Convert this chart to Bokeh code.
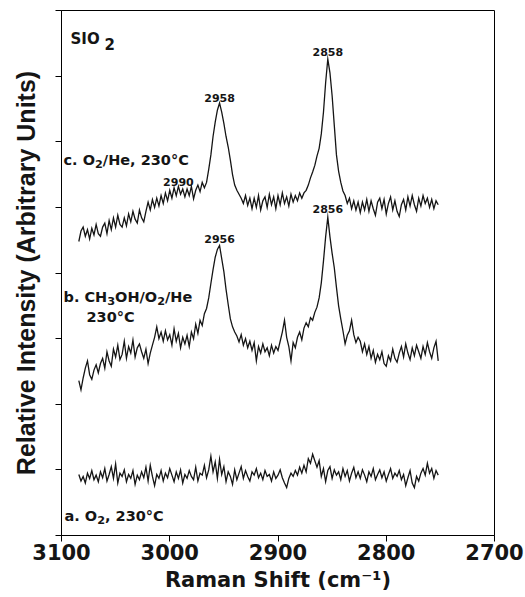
from bokeh.plotting import figure
from bokeh.models import Range1d, FixedTicker, CustomJSTickFormatter
from bokeh.core.properties import value
from bokeh.embed import file_html
from bokeh.resources import INLINE

# ---------------- data ----------------
wavenumber = list(range(3084, 2751, -2))  # Raman shift, cm-1 (167 points)

# a. O2, 230 C
spec_a = [
    0.93, 0.83, 0.90, 0.80, 0.95, 0.87, 0.99, 0.85, 0.92, 0.82,
    0.97, 0.88, 1.02, 0.83, 0.93, 1.05, 0.87, 1.09, 0.80, 0.95,
    0.90, 1.00, 0.82, 0.93, 0.87, 0.99, 0.78, 0.92, 0.85, 0.97,
    0.88, 1.04, 0.83, 1.07, 0.90, 0.76, 0.93, 0.87, 0.99, 0.83,
    0.95, 0.88, 1.02, 0.92, 0.82, 0.97, 0.87, 1.00, 0.80, 0.93,
    0.87, 0.99, 0.90, 0.85, 1.04, 0.83, 0.95, 0.92, 1.07, 0.88,
    1.00, 1.21, 0.97, 1.12, 0.87, 1.16, 0.93, 1.05, 0.82, 0.97,
    0.90, 0.78, 1.00, 0.85, 0.95, 1.05, 0.87, 0.99, 0.90, 0.83,
    0.97, 0.92, 1.02, 0.88, 0.95, 0.85, 0.99, 0.90, 0.93, 0.83,
    0.97, 0.87, 0.92, 1.00, 0.88, 0.80, 0.73, 0.87, 0.95, 0.90,
    0.99, 0.92, 1.04, 0.95, 1.07, 0.97, 1.17, 1.10, 1.24, 1.14,
    1.04, 1.14, 0.90, 1.02, 0.82, 0.99, 1.05, 0.87, 1.00, 0.92,
    0.97, 0.85, 1.02, 0.90, 0.99, 0.83, 0.95, 1.04, 0.88, 0.97,
    0.87, 1.00, 0.92, 0.82, 0.97, 0.90, 1.02, 0.85, 0.93, 1.00,
    0.88, 0.97, 0.83, 0.93, 1.02, 0.87, 0.95, 0.90, 0.99, 0.85,
    0.93, 0.76, 0.88, 0.99, 0.80, 0.73, 0.90, 0.83, 0.95, 1.02,
    0.92, 1.10, 0.95, 1.02, 0.87, 0.99, 0.92,
]

# b. CH3OH/O2/He, 230 C
spec_b = [
    2.36, 2.22, 2.40, 2.55, 2.66, 2.45, 2.38, 2.52, 2.60, 2.48,
    2.62, 2.70, 2.55, 2.80, 2.66, 2.58, 2.84, 2.72, 2.90, 2.68,
    2.76, 2.96, 2.70, 2.88, 2.78, 2.98, 2.72, 2.86, 2.92, 2.80,
    2.70, 2.84, 2.62, 2.78, 2.90, 3.02, 3.18, 3.00, 3.10, 2.96,
    3.12, 2.98, 3.06, 2.90, 3.15, 2.96, 3.08, 2.86, 3.02, 2.92,
    3.05, 2.88, 3.10, 3.00, 3.22, 3.08, 3.28, 3.20, 3.38, 3.46,
    3.62, 3.84, 4.05, 4.24, 4.36, 4.42, 4.22, 4.02, 3.75, 3.52,
    3.30, 3.18, 3.10, 3.04, 2.95, 3.06, 2.90, 3.00, 2.86, 2.96,
    2.82, 2.94, 2.66, 2.88, 2.78, 2.92, 2.80, 2.86, 2.74, 2.90,
    2.78, 2.88, 2.82, 2.96, 3.10, 3.28, 3.02, 2.88, 2.66, 2.94,
    2.86, 3.02, 3.10, 2.98, 3.16, 3.24, 3.18, 3.32, 3.28, 3.40,
    3.48, 3.62, 3.85, 4.18, 4.55, 4.85, 4.55, 4.30, 4.08, 3.78,
    3.50, 3.30, 3.12, 2.92, 3.05, 3.12, 3.28, 3.06, 2.94, 3.02,
    2.96, 2.80, 2.92, 2.76, 2.88, 2.70, 2.82, 2.64, 2.76, 2.68,
    2.80, 2.62, 2.58, 2.74, 2.66, 2.84, 2.70, 2.64, 2.78, 2.88,
    2.72, 2.92, 2.78, 2.68, 2.86, 2.74, 2.90, 2.80, 2.70, 2.88,
    2.76, 2.94, 2.80, 2.70, 2.86, 2.96, 2.66,
]

# c. O2/He, 230 C
spec_c = [
    4.48, 4.64, 4.70, 4.56, 4.66, 4.52, 4.68, 4.58, 4.74, 4.60,
    4.56, 4.70, 4.76, 4.60, 4.80, 4.66, 4.84, 4.70, 4.88, 4.74,
    4.70, 4.84, 4.72, 4.90, 4.78, 4.94, 4.82, 4.76, 4.96, 4.84,
    4.78, 4.94, 5.08, 4.96, 5.12, 5.00, 5.14, 5.02, 5.18, 5.06,
    5.22, 5.10, 5.26, 5.14, 5.30, 5.18, 5.32, 5.20, 5.28, 5.16,
    5.28, 5.18, 5.32, 5.13, 5.26, 5.34, 5.24, 5.38, 5.30, 5.38,
    5.58, 5.80, 6.08, 6.30, 6.48, 6.59, 6.45, 6.28, 6.08, 5.92,
    5.72, 5.50, 5.34, 5.26, 5.20, 5.14, 5.06, 5.18, 5.03, 5.14,
    4.98, 5.14, 5.00, 5.18, 4.96, 5.10, 5.16, 5.00, 5.20, 5.04,
    5.16, 4.98, 5.18, 5.04, 5.22, 5.06, 5.16, 5.02, 5.20, 5.08,
    5.18, 5.10, 5.22, 5.14, 5.22, 5.26, 5.34, 5.45, 5.54, 5.64,
    5.78, 5.90, 6.12, 6.45, 6.90, 7.26, 7.05, 6.70, 6.25, 5.80,
    5.55, 5.38, 5.25, 5.18, 5.06, 5.14, 4.98, 5.10, 4.96, 5.08,
    4.92, 5.08, 4.96, 5.12, 4.94, 5.10, 4.98, 4.88, 5.08, 5.14,
    4.98, 5.12, 4.90, 5.06, 5.16, 4.96, 5.10, 4.94, 4.86, 5.04,
    5.12, 4.96, 5.16, 5.02, 5.18, 5.04, 4.94, 5.14, 5.02, 5.18,
    5.06, 5.14, 5.00, 5.12, 4.98, 5.10, 5.04,
]

x_ticks = [3100, 3000, 2900, 2800, 2700]
y_ticks = [0, 1, 2, 3, 4, 5, 6, 7, 8]

peak_labels = ["2990", "2958", "2858", "2956", "2856"]
peak_series = ["c", "c", "c", "b", "b"]

# ---------------- layout ----------------
W_FIG, H_FIG = 525, 597
LEFT, RIGHT, TOP, BOTTOM = 61, 31, 10, 62
FW = W_FIG - LEFT - RIGHT
FH = H_FIG - TOP - BOTTOM
X0, X1 = 3100, 2700
Y0, Y1 = 0, 8

p = figure(width=W_FIG, height=H_FIG, output_backend="svg", toolbar_location=None,
           title=None, x_range=Range1d(X0, X1), y_range=Range1d(Y0, Y1),
           min_border_left=LEFT, min_border_right=RIGHT,
           min_border_top=TOP, min_border_bottom=BOTTOM)
p.background_fill_color = "white"
p.border_fill_color = "white"
p.outline_line_color = "black"
p.outline_line_width = 1
p.grid.visible = False

FONT = "DejaVu Sans"
INK = "#151515"

xa = p.xaxis[0]
xa.ticker = FixedTicker(ticks=x_ticks, minor_ticks=[])
xa.axis_label = "Raman Shift (cm\u207b\u00b9)"
xa.axis_label_text_font = FONT
xa.axis_label_text_font_style = "bold"
xa.axis_label_text_font_size = "21px"
xa.axis_label_text_color = INK
xa.axis_label_standoff = 5
xa.major_label_text_font = FONT
xa.major_label_text_font_style = "bold"
xa.major_label_text_font_size = "21px"
xa.major_label_text_color = INK
xa.major_label_standoff = 2
xa.major_tick_out = 6
xa.major_tick_in = 0
xa.axis_line_color = "black"

ya = p.yaxis[0]
ya.ticker = FixedTicker(ticks=y_ticks, minor_ticks=[])
ya.formatter = CustomJSTickFormatter(code="return ''")
ya.major_label_text_font_size = "1px"
ya.major_label_standoff = 0
ya.major_tick_out = 6
ya.major_tick_in = 0
ya.axis_label = "Relative Intensity (Arbitrary Units)"
ya.axis_label_text_font = "Liberation Sans"
ya.axis_label_text_font_style = "bold"
ya.axis_label_text_font_size = "25px"
ya.axis_label_text_color = INK
ya.axis_label_standoff = 16
ya.axis_line_color = "black"

# spectra
for s in (spec_a, spec_b, spec_c):
    p.line(wavenumber, s, line_color=INK, line_width=1.3, line_join="miter")

# pixel helpers for annotation placement
def fx(px):
    return X0 + (X1 - X0) * (px - LEFT) / FW

def fy(py):
    return Y1 - (Y1 - Y0) * (py - TOP) / FH

def dy(d):
    return (Y1 - Y0) * d / FH

ADV = {"a": 675, "b": 716, "c": 593, "e": 678, "H": 837, "O": 850, "C": 734,
       "/": 365, ".": 380, ",": 380, " ": 348, "\u00b0": 500, "S": 720, "I": 372}

def width_px(txt, size):
    return sum(ADV.get(ch, 696) for ch in txt) * size / 1000.0

def rich(px, py, parts, size):
    x = px
    for txt, kind in parts:
        s = size * 0.78 if kind == "sub" else size
        off = 4 if kind == "sub" else 0
        p.text(x=[fx(x)], y=[fy(py + off)], text=[txt], text_font=value(FONT),
               text_font_style="bold", text_font_size=f"{s:.1f}px",
               text_baseline="alphabetic", text_align="left", text_color=INK)
        x += width_px(txt, s)

# sample labels
LS = 14.5
rich(63, 159, [("c. O", ""), ("2", "sub"), ("/He, 230\u00b0C", "")], LS)
rich(63, 296, [("b. CH", ""), ("3", "sub"), ("OH/O", ""), ("2", "sub"), ("/He", "")], LS)
rich(86, 316, [("230\u00b0C", "")], LS)
rich(64, 515, [("a. O", ""), ("2", "sub"), (", 230\u00b0C", "")], LS)
p.text(x=[fx(70)], y=[fy(38)], text=["SIO"], text_font=value(FONT), text_font_style="bold",
       text_font_size="15px", text_baseline="alphabetic", text_align="left", text_color=INK)
p.text(x=[fx(104)], y=[fy(43)], text=["2"], text_font=value(FONT), text_font_style="bold",
       text_font_size="15px", text_baseline="alphabetic", text_align="left", text_color=INK)

# peak labels: placed just above the local maximum of the series
series = {"b": spec_b, "c": spec_c}
gaps = [4, 5, 7, 6, 8]
lx, ly, lt = [], [], []
for lab, ser, g in zip(peak_labels, peak_series, gaps):
    v = float(lab)
    ys = series[ser]
    idx = [i for i, w in enumerate(wavenumber) if v - 6 <= w <= v + 2]
    best = max(idx, key=lambda i: ys[i])
    lx.append(wavenumber[best])
    ly.append(ys[best] + dy(g))
    lt.append(lab)
p.text(x=lx, y=ly, text=lt, text_font=value(FONT), text_font_style="bold",
       text_font_size="11px", text_baseline="alphabetic", text_align="center", text_color=INK)

open("out.html", "w").write(file_html(p, INLINE))
